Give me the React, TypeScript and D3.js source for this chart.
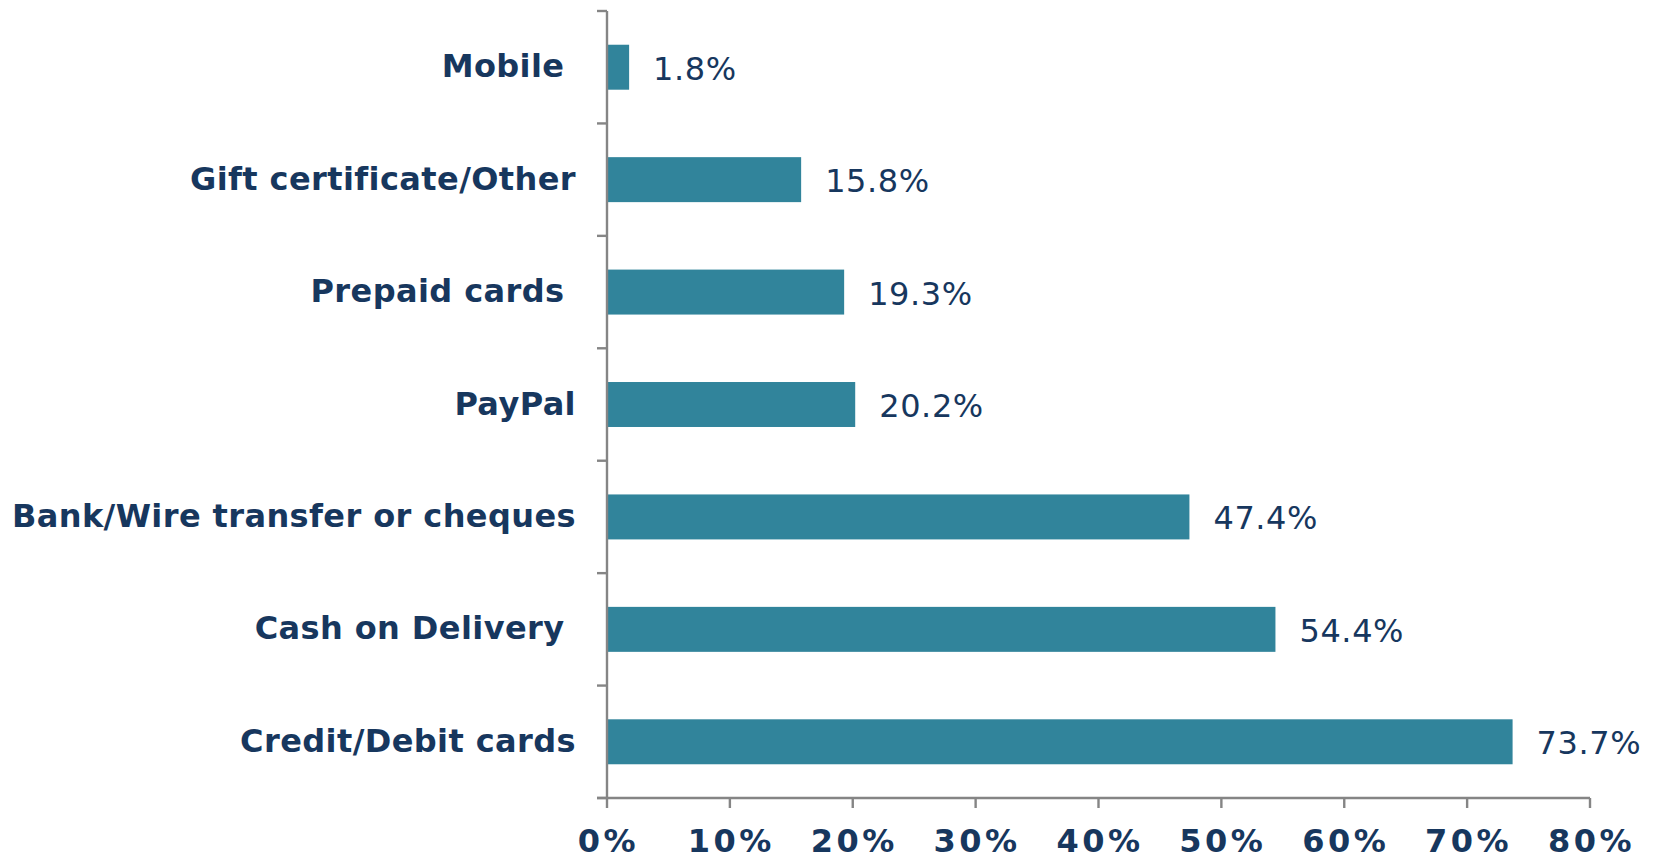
import React from "react";
import * as d3 from "d3";

const categories = [
  "Mobile ",
  "Gift certificate/Other",
  "Prepaid cards ",
  "PayPal",
  "Bank/Wire transfer or cheques",
  "Cash on Delivery ",
  "Credit/Debit cards",
];
const values = [1.8, 15.8, 19.3, 20.2, 47.4, 54.4, 73.7];
const xTicks = [0, 10, 20, 30, 40, 50, 60, 70, 80];

const W = 1661;
const H = 859;
const NAVY = "#17375E";
const BAR = "#31849B";
const AXIS = "#858585";
const FONT = "'DejaVu Sans', Verdana, sans-serif";

export default function App() {
  const x = d3.scaleLinear().domain([0, 80]).range([607, 1590]);
  const y = d3.scaleBand<string>().domain(categories).range([11, 798]).padding(0);
  const bw = y.bandwidth();
  const boundaries = [...categories.map((c) => y(c) as number), 798];

  return (
    <div style={{ position: "absolute", left: 0, top: 0, width: W, height: H, background: "#fff" }}>
      <svg width={W} height={H} style={{ display: "block" }}>
        {categories.map((c, i) => {
          const y0 = y(c) as number;
          const cy = y0 + bw / 2;
          return (
            <g key={c}>
              <rect
                x={x(0)}
                y={y0 + bw * 0.3}
                width={x(values[i]) - x(0)}
                height={bw * 0.4}
                fill={BAR}
              />
              <text
                x={576}
                y={cy + 10}
                textAnchor="end"
                fontFamily={FONT}
                fontWeight="bold"
                fontSize={32}
                fill={NAVY}
                letterSpacing={0.4}
                style={{ whiteSpace: "pre" }}
              >
                {c}
              </text>
              <text
                x={x(values[i]) + 24}
                y={cy + 12.5}
                fontFamily={FONT}
                fontSize={32}
                fill={NAVY}
                letterSpacing={0.6}
              >
                {values[i].toFixed(1) + "%"}
              </text>
            </g>
          );
        })}
        {/* y axis */}
        <line x1={607} x2={607} y1={11} y2={798} stroke={AXIS} strokeWidth={2.4} />
        {boundaries.map((b, i) => (
          <line key={"yt" + i} x1={597} x2={607} y1={b} y2={b} stroke={AXIS} strokeWidth={2.4} />
        ))}
        {/* x axis */}
        <line x1={597} x2={x(80)} y1={798} y2={798} stroke={AXIS} strokeWidth={2.4} />
        {xTicks.map((t) => (
          <g key={"xt" + t}>
            <line x1={x(t)} x2={x(t)} y1={798} y2={808} stroke={AXIS} strokeWidth={2.4} />
            <text
              x={x(t) + 1.5}
              y={852}
              textAnchor="middle"
              fontFamily={FONT}
              fontWeight="bold"
              fontSize={32}
              fill={NAVY}
              letterSpacing={3.5}
            >
              {t + "%"}
            </text>
          </g>
        ))}
      </svg>
    </div>
  );
}
